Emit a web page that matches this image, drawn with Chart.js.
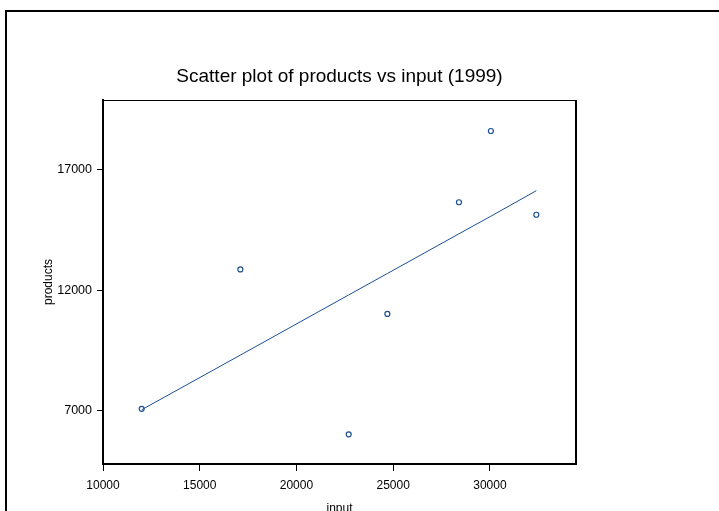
<!DOCTYPE html>
<html>
<head>
<meta charset="utf-8">
<script src="https://cdn.jsdelivr.net/npm/chart.js@4/dist/chart.umd.min.js"></script>
<style>
    html, body { margin: 0; padding: 0; background: #fff; overflow: hidden; }
    #wrap { position: relative; width: 719px; height: 511px; }
    #frame {
        position: absolute; left: 5px; top: 10px;
        width: 800px; height: 600px;
        border: 2px solid #000;
        box-sizing: border-box;
        pointer-events: none;
    }
    canvas { position: absolute; left: 0; top: 0; }
</style>
</head>
<body>
<div id="wrap">
    <canvas id="scatterChart" width="719" height="511"></canvas>
    <div id="frame"></div>
</div>
<script>
// data
const inputVals = [12000, 17100, 22700, 24700, 28400, 30050, 32400];
const productVals = [7080, 12870, 6020, 11020, 15660, 18620, 15140];
const fitVals = [7040, 9310, 11810, 12700, 14350, 15080, 16140];

const xTicks = [10000, 15000, 20000, 25000, 30000];
const yTicks = [7000, 12000, 17000];

const titleText = 'Scatter plot of products vs input (1999)';
const xTitle = 'input';
const yTitle = 'products';

const blue = '#1c4f93';
const font = 'Liberation Sans, Arial, sans-serif';

const points = inputVals.map((x, i) => ({ x, y: productVals[i] }));
const fitLine = inputVals.map((x, i) => ({ x, y: fitVals[i] }));

// title, axis titles and top/right edges of the box
const decorations = {
    id: 'decorations',
    afterDraw(chart) {
        const { ctx, chartArea: a } = chart;
        ctx.save();
        ctx.strokeStyle = '#000';
        ctx.lineWidth = 1;
        ctx.beginPath();
        ctx.moveTo(a.left, a.top + 0.5);
        ctx.lineTo(a.right, a.top + 0.5);
        ctx.stroke();
        ctx.lineWidth = 2;
        ctx.beginPath();
        ctx.moveTo(a.right, a.top);
        ctx.lineTo(a.right, a.bottom);
        ctx.stroke();

        const cx = (a.left + a.right) / 2;
        ctx.fillStyle = '#000';
        ctx.textAlign = 'center';
        ctx.textBaseline = 'alphabetic';
        ctx.font = '19px ' + font;
        ctx.fillText(titleText, cx, 82);

        ctx.font = '12px ' + font;
        ctx.fillText(xTitle, cx, 512);

        ctx.translate(52, (a.top + a.bottom) / 2);
        ctx.rotate(-Math.PI / 2);
        ctx.fillText(yTitle, 0, 0);
        ctx.restore();
    }
};

const ctx = document.getElementById('scatterChart').getContext('2d');
new Chart(ctx, {
    type: 'scatter',
    data: {
        datasets: [
            {
                data: fitLine,
                showLine: true,
                borderColor: blue,
                borderWidth: 1,
                pointRadius: 0,
                tension: 0
            },
            {
                data: points,
                borderColor: blue,
                backgroundColor: 'rgba(0,0,0,0)',
                borderWidth: 1.2,
                pointRadius: 2.5
            }
        ]
    },
    options: {
        responsive: false,
        animation: false,
        events: [],
        layout: { padding: { top: 100, right: 143, bottom: 0, left: 0 } },
        plugins: {
            legend: { display: false },
            tooltip: { enabled: false }
        },
        scales: {
            x: {
                type: 'linear',
                min: 10000,
                max: 34450,
                afterBuildTicks: s => { s.ticks = xTicks.map(v => ({ value: v })); },
                afterFit: s => { s.height = 47; },
                border: { color: '#000', width: 2 },
                grid: { drawOnChartArea: false, tickLength: 7, color: '#000', tickWidth: 1 },
                ticks: {
                    color: '#000',
                    padding: 7,
                    maxRotation: 0,
                    font: { family: font, size: 12 },
                    callback: v => String(v)
                }
            },
            y: {
                type: 'linear',
                min: 4786,
                max: 19908,
                afterBuildTicks: s => { s.ticks = yTicks.map(v => ({ value: v })); },
                afterFit: s => { s.width = 103; },
                border: { color: '#000', width: 2 },
                grid: { drawOnChartArea: false, tickLength: 6, color: '#000', tickWidth: 1 },
                ticks: {
                    color: '#000',
                    padding: 5,
                    font: { family: font, size: 12.5 },
                    callback: v => String(v)
                }
            }
        }
    },
    plugins: [decorations]
});
</script>
</body>
</html>
